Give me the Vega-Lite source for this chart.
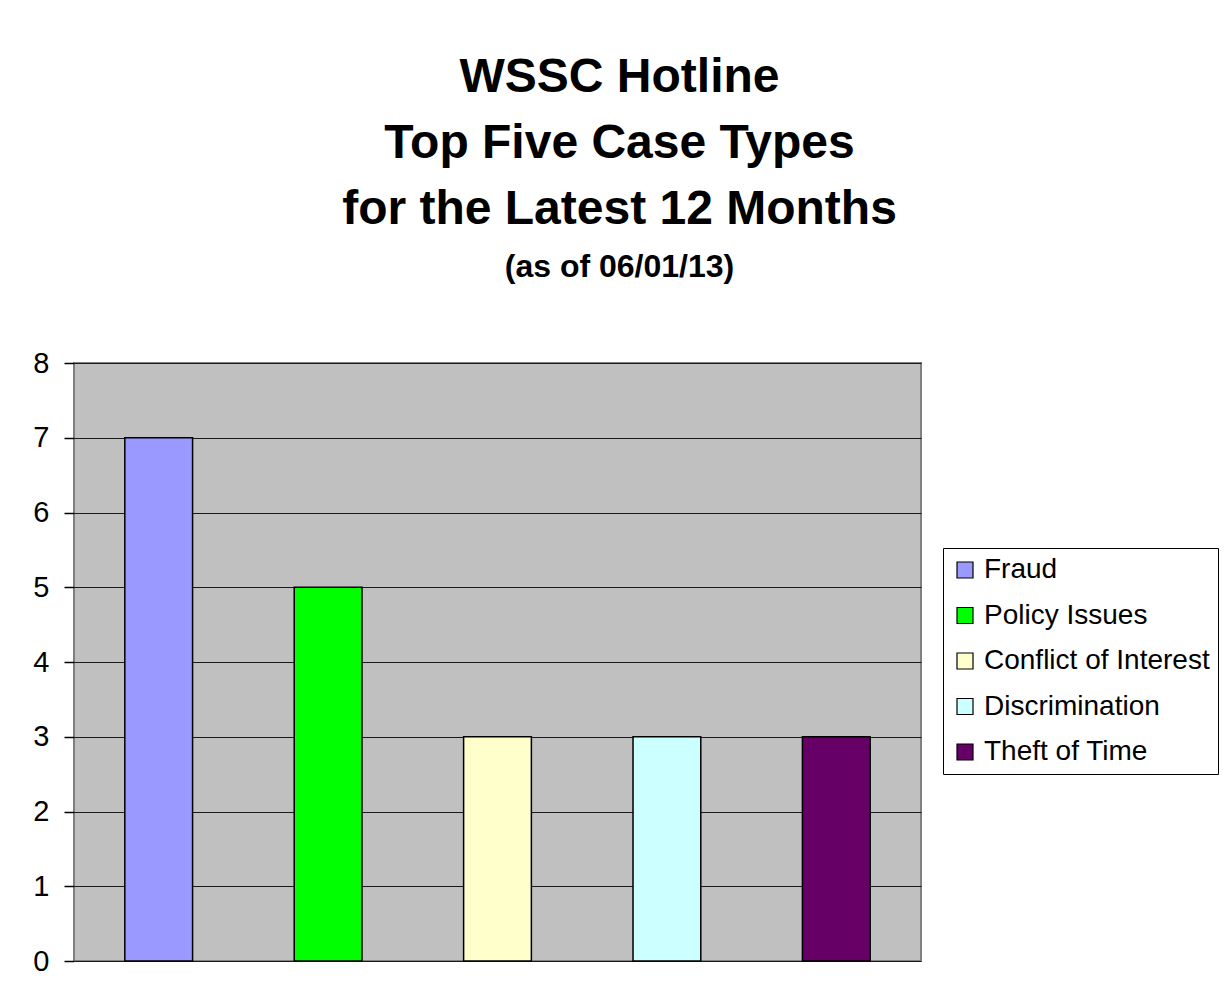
{
  "$schema": "https://vega.github.io/schema/vega-lite/v6.json",
  "autosize": {"type": "none"},
  "width": 847,
  "height": 598,
  "padding": {"left": 74, "top": 363, "right": 306, "bottom": 40},
  "background": "white",
  "data": {
    "values": [
      {"type": "Fraud", "cases": 7},
      {"type": "Policy Issues", "cases": 5},
      {"type": "Conflict of Interest", "cases": 3},
      {"type": "Discrimination", "cases": 3},
      {"type": "Theft of Time", "cases": 3}
    ]
  },
  "title": {
    "text": ["WSSC Hotline", "Top Five Case Types", "for the Latest 12 Months"],
    "subtitle": "(as of 06/01/13)",
    "font": "Liberation Sans",
    "fontSize": 48,
    "fontWeight": "bold",
    "lineHeight": 66,
    "color": "black",
    "subtitleFont": "Liberation Sans",
    "subtitleFontSize": 32,
    "subtitleFontWeight": "bold",
    "subtitleColor": "black",
    "subtitlePadding": 18,
    "anchor": "middle",
    "dx": 122,
    "offset": 66
  },
  "mark": {"type": "bar", "stroke": "black", "strokeWidth": 1.5},
  "encoding": {
    "x": {
      "field": "type",
      "type": "nominal",
      "sort": null,
      "scale": {"paddingInner": 0.6, "paddingOuter": 0.3},
      "axis": null
    },
    "y": {
      "field": "cases",
      "type": "quantitative",
      "scale": {"domain": [0, 8]},
      "axis": {
        "title": null,
        "values": [0, 1, 2, 3, 4, 5, 6, 7, 8],
        "labelFont": "Liberation Sans",
        "labelFontSize": 29,
        "labelColor": "black",
        "labelPadding": 15,
        "tickColor": "black",
        "tickSize": 10,
        "tickWidth": 1.5,
        "domain": false,
        "grid": true,
        "gridColor": "#1a1a1a",
        "gridWidth": 1.2
      }
    },
    "fill": {
      "field": "type",
      "type": "nominal",
      "sort": null,
      "scale": {
        "domain": ["Fraud", "Policy Issues", "Conflict of Interest", "Discrimination", "Theft of Time"],
        "range": ["#9999FF", "#00FF00", "#FFFFCC", "#CCFFFF", "#660066"]
      },
      "legend": {
        "title": null,
        "orient": "none",
        "legendX": 869,
        "legendY": 185,
        "fillColor": "white",
        "strokeColor": "black",
        "padding": 8,
        "symbolType": "square",
        "symbolSize": 256,
        "symbolStrokeColor": "black",
        "symbolStrokeWidth": 1.2,
        "symbolOpacity": 1,
        "labelFont": "Liberation Sans",
        "labelFontSize": 28,
        "labelColor": "black",
        "labelOffset": 5,
        "labelLimit": 400,
        "rowPadding": 17.5
      }
    }
  },
  "config": {
    "view": {"fill": "#C0C0C0", "stroke": "#808080", "strokeWidth": 2}
  }
}
